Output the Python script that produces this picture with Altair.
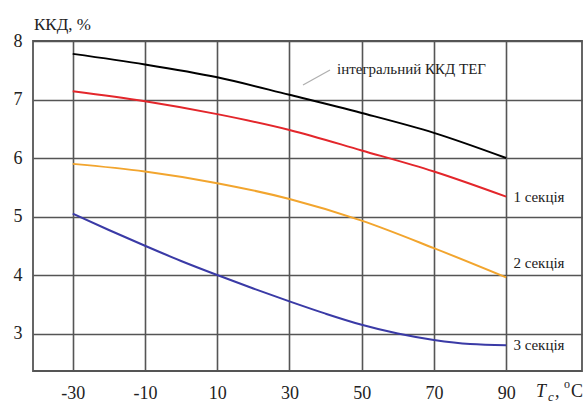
import altair as alt
import pandas as pd

# ---- data ----
x_integral = [-30, -10, 10, 30, 50, 70, 90]
y_integral = [7.78, 7.60, 7.38, 7.08, 6.77, 6.43, 6.00]

x_sec1 = [-30, -10, 10, 30, 50, 70, 90]
y_sec1 = [7.14, 6.97, 6.75, 6.48, 6.13, 5.77, 5.34]

x_sec2 = [-30, -10, 10, 30, 50, 70, 90]
y_sec2 = [5.90, 5.77, 5.57, 5.30, 4.93, 4.46, 3.96]

x_sec3 = [-30, -20, -10, 0, 10, 20, 30, 40, 50, 60, 70, 80, 90]
y_sec3 = [5.05, 4.77, 4.50, 4.24, 4.00, 3.77, 3.55, 3.34, 3.15, 3.00, 2.89, 2.82, 2.80]

series_names = ["integral", "sec1", "sec2", "sec3"]
series_colors = ["#000000", "#e3262b", "#f2a52e", "#3a3aa6"]

x_ticks = [-30, -10, 10, 30, 50, 70, 90]
y_ticks = [3, 4, 5, 6, 7, 8]

section_labels = ["1 секція", "2 секція", "3 секція"]
section_label_x = [92, 92, 92]
section_label_y = [5.34, 4.21, 2.80]

FONT = "Liberation Serif"
TXT = "#222222"
GRID = "#555555"

rows = []
for name, xs, ys in [("integral", x_integral, y_integral), ("sec1", x_sec1, y_sec1),
                     ("sec2", x_sec2, y_sec2), ("sec3", x_sec3, y_sec3)]:
    for a, b in zip(xs, ys):
        rows.append({"series": name, "T": a, "eff": b})
df = pd.DataFrame(rows)

xscale = alt.Scale(domain=[-41, 111], nice=False, zero=False)
yscale = alt.Scale(domain=[2.36, 8], nice=False, zero=False)

xaxis = alt.Axis(values=x_ticks, title=None, grid=True, gridColor=GRID, gridWidth=1.6,
                 domain=False, ticks=False, labelFont=FONT, labelFontSize=18, labelColor=TXT,
                 labelPadding=13, labelFlush=False, labelExpr="'' + datum.value")
yaxis = alt.Axis(values=y_ticks, title=None, grid=True, gridColor=GRID, gridWidth=1.6,
                 domain=False, ticks=False, labelFont=FONT, labelFontSize=18, labelColor=TXT,
                 labelPadding=11, labelBaseline="middle", labelExpr="'' + datum.value")

lines = alt.Chart(df).mark_line(strokeWidth=2, interpolate="monotone").encode(
    x=alt.X("T:Q", scale=xscale, axis=xaxis),
    y=alt.Y("eff:Q", scale=yscale, axis=yaxis),
    color=alt.Color("series:N", scale=alt.Scale(domain=series_names, range=series_colors), legend=None),
    detail="series:N",
)

lab_df = pd.DataFrame({"label": section_labels, "x": section_label_x, "y": section_label_y})
labels = alt.Chart(lab_df).mark_text(align="left", baseline="middle", font=FONT, fontSize=15,
                                     color=TXT).encode(
    x=alt.X("x:Q", scale=xscale), y=alt.Y("y:Q", scale=yscale), text="label:N")

ann = alt.Chart(pd.DataFrame({"t": ["інтегральний ККД ТЕГ"]})).mark_text(
    align="left", baseline="alphabetic", font=FONT, fontSize=15, color=TXT).encode(
    x=alt.value(304), y=alt.value(33), text="t:N")

leader = alt.Chart(pd.DataFrame({"a": [0]})).mark_rule(color="#b0b0b0", strokeWidth=1.3).encode(
    x=alt.value(270), x2=alt.value(297), y=alt.value(44), y2=alt.value(29))

ytitle = alt.Chart(pd.DataFrame({"t": ["ККД, %"]})).mark_text(
    align="left", baseline="alphabetic", font=FONT, fontSize=17, color=TXT).encode(
    x=alt.value(1), y=alt.value(-11), text="t:N")

def piece(txt, x, y, size, italic=False):
    return alt.Chart(pd.DataFrame({"t": [txt]})).mark_text(
        align="left", baseline="alphabetic", font=FONT, fontSize=size, color=TXT,
        fontStyle="italic" if italic else "normal").encode(
        x=alt.value(x), y=alt.value(y), text="t:N")

xt = [piece("T", 503, 356, 18, True), piece("c", 515, 360, 13, True), piece(",", 522, 356, 18),
      piece("o", 531, 347, 12), piece("C", 538, 356, 18)]

chart = alt.layer(lines, labels, ann, leader, ytitle, *xt).properties(
    width=549, height=330,
    autosize=alt.AutoSizeParams(type="none"),
    padding={"left": 33, "top": 41, "right": 6, "bottom": 32},
    background="white",
).configure_view(stroke=GRID, strokeWidth=1.8)

chart.save("out.html", embed_options={"renderer": "svg", "actions": False})
